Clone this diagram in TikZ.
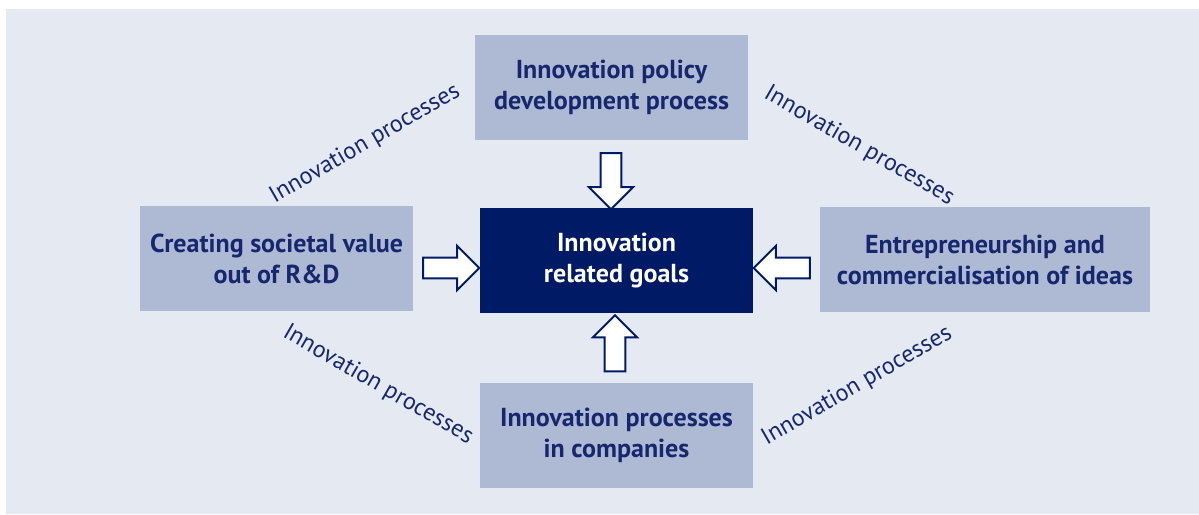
\documentclass[tikz,border=0pt]{standalone}
\usepackage{fontspec}
\setmainfont{PT Sans}
\usetikzlibrary{shapes.arrows}
\definecolor{panel}{HTML}{E5EAF2}
\definecolor{boxfill}{HTML}{AEBAD4}
\definecolor{navy}{HTML}{001A66}
\definecolor{ink}{HTML}{17276E}
\tikzset{
  block/.style={fill=boxfill, inner sep=0pt, align=center, text=ink,
    font=\fontsize{26}{31}\selectfont\bfseries},
  goal/.style={block, fill=navy, text=white},
  flow/.style={single arrow, draw=navy, fill=white, line width=2pt,
    minimum width=44pt, single arrow head extend=11pt,
    single arrow head indent=0pt, minimum height=56pt, inner sep=0pt,
    text width=0pt, text height=9pt, text depth=9pt},
  proc/.style={text=ink, font=\fontsize{24}{26}\selectfont, inner sep=0pt}
}
\begin{document}
\begin{tikzpicture}[x=1pt,y=-1pt]
\useasboundingbox (0,0) rectangle (1199,514);
\fill[panel] (6,9) rectangle (1199,514);

\node[block, minimum width=273pt, minimum height=105pt] (policy) at (611.5,87.5)
  {Innovation policy\\development process};
\node[goal, minimum width=273pt, minimum height=105pt] (goals) at (616.5,260.5)
  {Innovation\\related goals};
\node[block, minimum width=273pt, minimum height=105pt] (rd) at (276.5,258.5)
  {Creating societal value\\out of R\&D};
\node[block, minimum width=330pt, minimum height=105pt] (entre) at (985,259.5)
  {Entrepreneurship and\\commercialisation of ideas};
\node[block, minimum width=273pt, minimum height=105pt] (comp) at (616.5,435.5)
  {Innovation processes\\in companies};

% block arrows pointing into the goals box
\node[flow, rotate=-90] (a1) at (611,176) {};
\node[flow] (a2) at (446,268) {};
\node[flow, rotate=180] (a3) at (787,268) {};
\node[flow, rotate=90] (a4) at (615,348.5) {};

% diagonal labels between the outer boxes
\node[proc, rotate=30] (l1) at (365,144) {Innovation processes};
\node[proc, rotate=-30] (l2) at (859,146) {Innovation processes};
\node[proc, rotate=-30] (l3) at (378,385) {Innovation processes};
\node[proc, rotate=30] (l4) at (857,386) {Innovation processes};
\end{tikzpicture}
\end{document}
